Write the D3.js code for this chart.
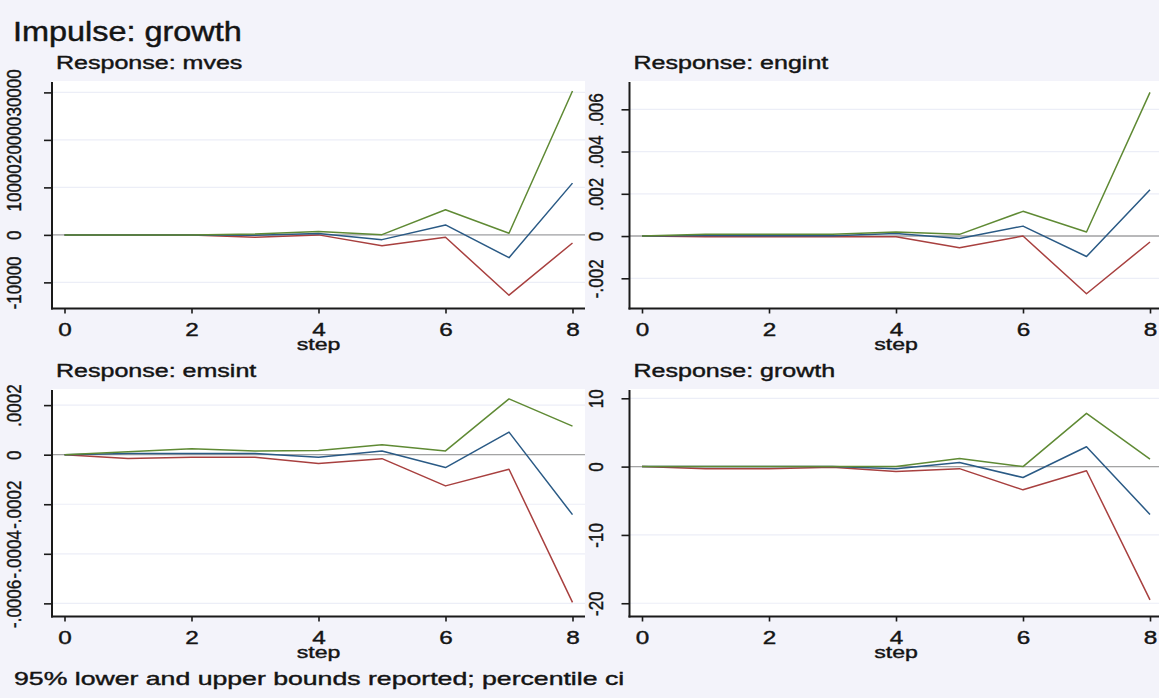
<!DOCTYPE html>
<html><head><meta charset="utf-8">
<script src="https://cdn.jsdelivr.net/npm/d3@7"></script>
<style>body{margin:0;background:#f3f3fa;} svg{display:block}</style>
</head><body>
<svg id="c" width="1159" height="698"></svg>
<script>
// ---------- data ----------
const steps = [0, 1, 2, 3, 4, 5, 6, 7, 8];
const stepTicks = [0, 2, 4, 6, 8];

const titleText = "Impulse: growth";
const footerText = "95% lower and upper bounds reported; percentile ci";
const responses = ["mves", "engint", "emsint", "growth"];

// Response: mves
const mvesLower = [0, 0, 0, -500, 0, -2300, -500, -12700, -1700];
const mvesIrf   = [0, 0, 0, -100, 300, -1000, 2100, -4800, 10900];
const mvesUpper = [0, 0, 0, 200, 700, 50, 5300, 350, 30300];
const mvesTicks = [-10000, 0, 10000, 20000, 30000];
const mvesTickLabels = ["-10000", "0", "10000", "20000", "30000"];
const mvesRange = [-15500, 32400];

// Response: engint
const engintLower = [0, -0.00003, -0.00003, -0.00003, -0.00003, -0.00055, 0, -0.00273, -0.00028];
const engintIrf   = [0, 0.00002, 0.00001, 0.00001, 0.00012, -0.00012, 0.00047, -0.00097, 0.00219];
const engintUpper = [0, 0.00008, 0.00008, 0.00008, 0.00019, 0.00008, 0.00117, 0.00019, 0.0068];
const engintTicks = [-0.002, 0, 0.002, 0.004, 0.006];
const engintTickLabels = ["-.002", "0", ".002", ".004", ".006"];
const engintRange = [-0.00343, 0.00734];

// Response: emsint
const emsintLower = [0, -0.000015, -0.00001, -0.00001, -0.000036, -0.000016, -0.000126, -0.000059, -0.000596];
const emsintIrf   = [0, 0.000005, 0.000005, 0.000005, -0.00001, 0.000015, -0.000052, 0.000091, -0.000242];
const emsintUpper = [0, 0.000012, 0.000024, 0.000015, 0.000017, 0.00004, 0.000015, 0.000225, 0.000115];
const emsintTicks = [-0.0006, -0.0004, -0.0002, 0, 0.0002];
const emsintTickLabels = ["-.0006", "-.0004", "-.0002", "0", ".0002"];
const emsintRange = [-0.000653, 0.000265];

// Response: growth
const growthLower = [0, -0.3, -0.3, -0.1, -0.7, -0.3, -3.4, -0.6, -19.5];
const growthIrf   = [0, 0, 0, 0, -0.3, 0.6, -1.6, 2.9, -7.0];
const growthUpper = [0, 0, 0, 0, 0, 1.2, 0, 7.8, 1.1];
const growthTicks = [-20, -10, 0, 10];
const growthTickLabels = ["-20", "-10", "0", "10"];
const growthRange = [-21.94, 11.36];

const panels = [
  {name: responses[0], lower: mvesLower, irf: mvesIrf, upper: mvesUpper, ticks: mvesTicks, labels: mvesTickLabels, domain: mvesRange},
  {name: responses[1], lower: engintLower, irf: engintIrf, upper: engintUpper, ticks: engintTicks, labels: engintTickLabels, domain: engintRange},
  {name: responses[2], lower: emsintLower, irf: emsintIrf, upper: emsintUpper, ticks: emsintTicks, labels: emsintTickLabels, domain: emsintRange},
  {name: responses[3], lower: growthLower, irf: growthIrf, upper: growthUpper, ticks: growthTicks, labels: growthTickLabels, domain: growthRange}
];

// ---------- styling ----------
const FONT = "'Liberation Sans', Arial, sans-serif";
const BG = "#f3f3fa";
const C_LOW = "#a8403f", C_IRF = "#2a5a85", C_UP = "#5f8a34";
const INK = "#141414";

const svg = d3.select("#c");
svg.append("rect").attr("width", 1159).attr("height", 698).attr("fill", BG);

function stretchText(sel, factor) {
  sel.each(function () {
    const n = this.getComputedTextLength();
    d3.select(this).attr("textLength", n * factor).attr("lengthAdjust", "spacingAndGlyphs");
  });
}
function heavy(sel, w) {
  sel.attr("fill", INK).attr("stroke", INK).attr("stroke-width", w).attr("paint-order", "stroke");
}

// title
svg.append("text").attr("x", 13).attr("y", 41).text(titleText)
  .attr("font-family", FONT).attr("font-size", 27)
  .call(heavy, 0.45)
  .call(stretchText, 1.2);

panels.forEach((p, i) => {
  const c = i % 2, r = Math.floor(i / 2);
  const ox = c * 577.5, oy = r * 308;
  const left = 52 + ox, right = 585 + ox, top = 81 + oy, bottom = 308.5 + oy;
  const x = d3.scaleLinear().domain([0, 8]).range([64.5 + ox, 572.5 + ox]);
  const y = d3.scaleLinear().domain(p.domain).range([bottom, top]);
  const g = svg.append("g");

  // subtitle
  g.append("text").attr("x", 56 + ox).attr("y", 69.3 + oy).text("Response: " + p.name)
    .attr("font-family", FONT).attr("font-size", 17.5)
    .call(heavy, 0.4)
    .call(stretchText, 1.43);

  // plot region
  g.append("rect").attr("x", left).attr("y", top).attr("width", right - left)
    .attr("height", bottom - top).attr("fill", "#fff");

  // gridlines
  g.append("g").selectAll("line").data(p.ticks).join("line")
    .attr("x1", left).attr("x2", right).attr("y1", d => y(d)).attr("y2", d => y(d))
    .attr("stroke", "#eceef7").attr("stroke-width", 1.2);

  // zero line
  g.append("line").attr("x1", left).attr("x2", right).attr("y1", y(0)).attr("y2", y(0))
    .attr("stroke", "#a4a4a4").attr("stroke-width", 1.4);

  // series
  const line = d3.line().x((d, j) => x(steps[j])).y(d => y(d));
  [[p.lower, C_LOW], [p.irf, C_IRF], [p.upper, C_UP]].forEach(([vals, col]) => {
    g.append("path").attr("d", line(vals)).attr("fill", "none")
      .attr("stroke", col).attr("stroke-width", 1.5).attr("stroke-linejoin", "round");
  });

  // y axis
  const ya = g.append("g").attr("transform", `translate(${left},0)`)
    .call(d3.axisLeft(y).tickValues(p.ticks).tickFormat((d, k) => p.labels[k]).tickSize(8).tickSizeOuter(0));
  ya.select(".domain").remove();
  ya.attr("color", "#1a1a1a").attr("font-family", FONT).attr("font-size", 17);
  ya.selectAll(".tick line").attr("stroke-width", 1.6);
  const yoff = c === 0 ? 31 : 27;
  ya.selectAll(".tick text").attr("x", 0).attr("y", 0).attr("dy", null)
    .attr("text-anchor", "middle")
    .call(heavy, 0.35)
    .attr("transform", `translate(${-yoff},0) scale(1.22,1) rotate(-90)`);

  // x axis
  const xa = g.append("g").attr("transform", `translate(0,${bottom})`)
    .call(d3.axisBottom(x).tickValues(stepTicks).tickFormat(d3.format("d")).tickSize(5).tickSizeOuter(0));
  xa.select(".domain").remove();
  xa.attr("color", "#1a1a1a").attr("font-family", FONT).attr("font-size", 18);
  xa.selectAll(".tick line").attr("stroke-width", 1.6);
  xa.selectAll(".tick text").attr("y", 0).attr("dy", null)
    .call(heavy, 0.4)
    .attr("transform", "translate(0,27.2) scale(1.35,1)");

  // axis lines
  g.append("line").attr("x1", left).attr("x2", left).attr("y1", top + 1).attr("y2", bottom + 1)
    .attr("stroke", "#1a1a1a").attr("stroke-width", 2);
  g.append("line").attr("x1", left - 1).attr("x2", right).attr("y1", bottom).attr("y2", bottom)
    .attr("stroke", "#1a1a1a").attr("stroke-width", 2);

  // axis title
  g.append("text").attr("x", 0).attr("y", 0).text("step")
    .attr("font-family", FONT).attr("font-size", 16.5).attr("text-anchor", "middle")
    .call(heavy, 0.4)
    .attr("transform", `translate(${(left + right) / 2},${350 + oy}) scale(1.4,1)`);
});

// footer note
svg.append("text").attr("x", 14).attr("y", 684.5).text(footerText)
  .attr("font-family", FONT).attr("font-size", 18.5)
  .call(heavy, 0.4)
  .call(stretchText, 1.44);
</script>
</body></html>
